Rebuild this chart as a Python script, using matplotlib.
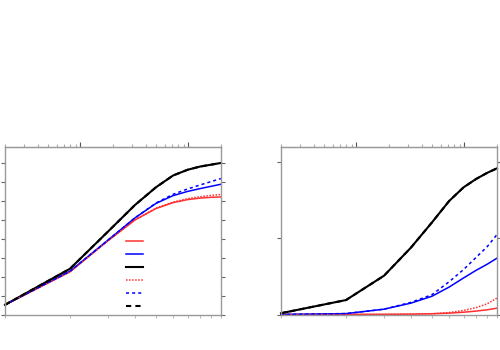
import numpy as np
import matplotlib
matplotlib.use("Agg")
import matplotlib.pyplot as plt
from matplotlib.ticker import NullFormatter, FixedLocator, NullLocator

x = [1, 2, 3, 4, 5, 6, 7, 8, 9, 10]

# left panel
left_red = [0.51, 2.25, 3.89, 4.98, 5.58, 5.89, 6.05, 6.13, 6.17, 6.19]
left_blue = [0.51, 2.28, 3.92, 5.09, 5.85, 6.26, 6.48, 6.63, 6.75, 6.86]
left_black = [0.51, 2.41, 4.37, 5.77, 6.70, 7.32, 7.62, 7.79, 7.89, 7.98]
left_red_alt = [0.51, 2.25, 3.89, 4.99, 5.60, 5.92, 6.10, 6.20, 6.27, 6.32]
left_blue_alt = [0.51, 2.28, 3.92, 5.09, 5.87, 6.33, 6.61, 6.82, 7.00, 7.16]
left_black_alt = left_black

# right panel
right_red = [0.0, 0.001, 0.002, 0.005, 0.01, 0.018, 0.03, 0.045, 0.062, 0.083]
right_blue = [0.0, 0.012, 0.07, 0.15, 0.24, 0.36, 0.48, 0.58, 0.66, 0.74]
right_black = [0.017, 0.19, 0.51, 0.88, 1.21, 1.49, 1.67, 1.78, 1.86, 1.92]
right_red_alt = [0.0, 0.001, 0.002, 0.005, 0.01, 0.026, 0.053, 0.09, 0.14, 0.215]
right_blue_alt = [0.0, 0.012, 0.07, 0.16, 0.26, 0.43, 0.59, 0.75, 0.89, 1.05]
right_black_alt = right_black

RED = '#ff3030'
BLUE = '#0000ff'
BLACK = '#000000'


def top_fwd(v):
    return 0.2 * np.asarray(v) ** 2


def top_inv(t):
    return np.sqrt(np.clip(np.asarray(t), 1e-12, None) / 0.2)


def style_axes(ax, ymax, ystep):
    ax.set_xscale('log')
    ax.set_xlim(1, 10)
    ax.set_ylim(0, ymax)
    ax.xaxis.set_major_locator(FixedLocator(x))
    ax.xaxis.set_minor_locator(NullLocator())
    ax.xaxis.set_major_formatter(NullFormatter())
    ax.set_yticks(np.arange(0, ymax, ystep))
    ax.yaxis.set_major_formatter(NullFormatter())
    for s in ax.spines.values():
        s.set_color('#999999')
        s.set_linewidth(1.0)
    ax.tick_params(axis='x', which='both', direction='out', length=2.5,
                   color='#bbbbbb', width=0.8, top=False)
    ax.tick_params(axis='y', which='both', direction='out', length=3,
                   color='#666666', width=0.8, left=True, right=True)
    sec = ax.secondary_xaxis('top', functions=(top_fwd, top_inv))
    sec.xaxis.set_major_formatter(NullFormatter())
    sec.xaxis.set_minor_formatter(NullFormatter())
    sec.tick_params(which='major', direction='out', length=3.5, color='#555555', width=0.8)
    sec.tick_params(which='minor', direction='out', length=2, color='#aaaaaa', width=0.8)
    sec.spines['top'].set_color('#999999')


fig = plt.figure(figsize=(5, 3.5), dpi=100)
ax1 = fig.add_axes([0.01, 0.1014, 0.432, 0.4786])
ax2 = fig.add_axes([0.562, 0.1014, 0.432, 0.4786])

for ax, data, ymax, ystep in [
    (ax1, (left_red, left_blue, left_black, left_red_alt, left_blue_alt, left_black_alt), 8.82, 1),
    (ax2, (right_red, right_blue, right_black, right_red_alt, right_blue_alt, right_black_alt), 2.2, 1),
]:
    r, b, k, r2, b2, k2 = data
    h1, = ax.plot(x, r, color=RED, lw=1.1)
    h2, = ax.plot(x, b, color=BLUE, lw=1.1)
    h3, = ax.plot(x, k, color=BLACK, lw=1.5)
    h4, = ax.plot(x, r2, color=RED, lw=1.1, ls=(0, (1, 1)))
    h5, = ax.plot(x, b2, color=BLUE, lw=1.1, ls=(0, (2, 2)))
    h6, = ax.plot(x, k2, color=BLACK, lw=1.5, ls=(0, (2.5, 2)))
    for h in (h1, h2, h3, h4, h5, h6):
        h.set_clip_on(False)
    style_axes(ax, ymax, ystep)
    if ax is ax1:
        handles = [h1, h2, h3, h4, h5, h6]

ax1.legend(handles, [''] * 6, loc='upper left', bbox_to_anchor=(0.558, 0.4645),
           frameon=False, fontsize=8, handlelength=1.6, labelspacing=0.27,
           borderpad=0, borderaxespad=0, handletextpad=0.2)

fig.savefig('out.png', dpi=100)
